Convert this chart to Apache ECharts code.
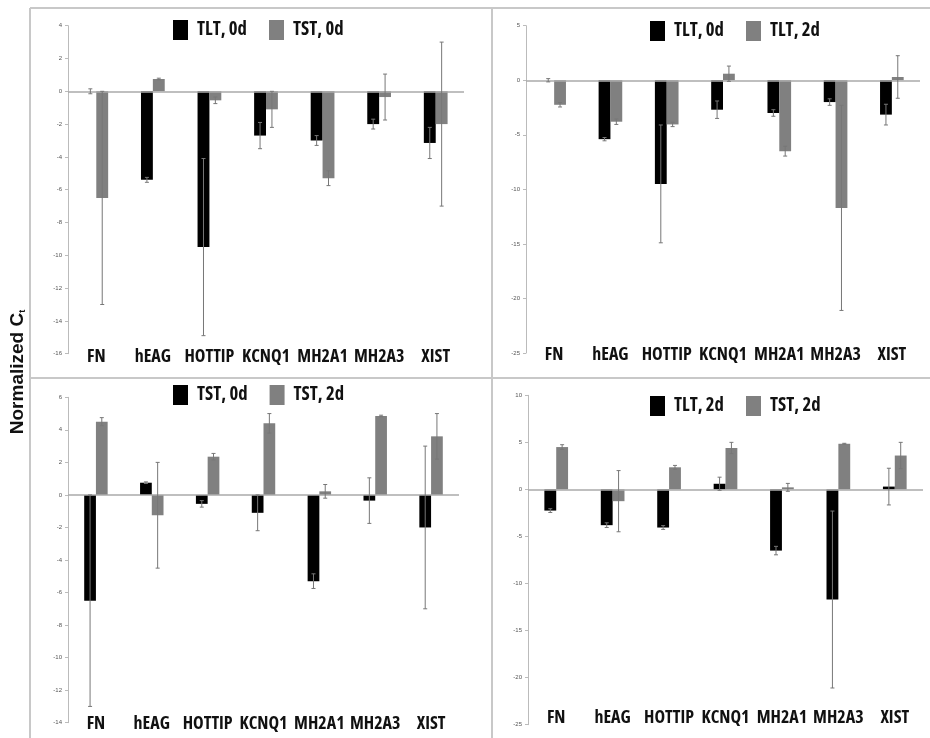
<!DOCTYPE html>
<html>
<head>
<meta charset="utf-8">
<script src="https://cdn.jsdelivr.net/npm/echarts@6/dist/echarts.min.js"></script>
<style>html,body{margin:0;padding:0;background:#fff}#c{width:930px;height:738px}</style>
</head>
<body>
<div id="c"></div>
<script>
// ---- data ----
const categories = ['FN', 'hEAG', 'HOTTIP', 'KCNQ1', 'MH2A1', 'MH2A3', 'XIST'];
const tlt0 = [0, -5.4, -9.5, -2.7, -3.0, -2.0, -3.15];
const tlt0Err = [0.15, 0.15, 5.4, 0.8, 0.3, 0.3, 0.95];
const tst0 = [-6.5, 0.75, -0.55, -1.1, -5.3, -0.35, -2.0];
const tst0Err = [6.5, 0.05, 0.2, 1.1, 0.45, 1.4, 5.0];
const tlt2 = [-2.25, -3.8, -4.05, 0.6, -6.5, -11.7, 0.3];
const tlt2Err = [0.2, 0.25, 0.2, 0.7, 0.45, 9.4, 1.95];
const tst2 = [4.5, -1.25, 2.35, 4.4, 0.22, 4.85, 3.6];
const tst2Err = [0.25, 3.25, 0.2, 0.6, 0.42, 0.05, 1.4];

const yTicksTL = { min: -16, max: 4, interval: 2 };
const yTicksTR = { min: -25, max: 5, interval: 5 };
const yTicksBL = { min: -14, max: 6, interval: 2 };
const yTicksBR = { min: -25, max: 10, interval: 5 };

const nameTLT0 = 'TLT, 0d', nameTST0 = 'TST, 0d', nameTLT2 = 'TLT, 2d', nameTST2 = 'TST, 2d';
const yTitle = 'Normalized C';

// ---- pick the narrowest available bold face (labels in the reference are condensed) ----
function pickNarrow() {
  const ctx = document.createElement('canvas').getContext('2d');
  const probe = 'HOTTIP';
  function w(font) { ctx.font = font; return ctx.measureText(probe).width; }
  const base1 = w('bold 100px monospace'), base2 = w('bold 100px serif');
  const cands = [
    ['Liberation Sans Narrow', ''], ['Arial Narrow', ''], ['DejaVu Sans Condensed', ''],
    ['Roboto Condensed', ''], ['Open Sans Condensed', ''], ['Noto Sans Condensed', ''],
    ['Open Sans', 'condensed'], ['Noto Sans', 'condensed'], ['Roboto', 'condensed'],
    ['Inter', 'condensed'], ['DejaVu Sans', 'condensed'], ['Liberation Sans', '']
  ];
  let best = { fam: 'Liberation Sans', stretch: '', width: w('bold 100px "Liberation Sans"') };
  cands.forEach(([fam, st]) => {
    const a = w('bold ' + (st ? st + ' ' : '') + '100px "' + fam + '", monospace');
    const b = w('bold ' + (st ? st + ' ' : '') + '100px "' + fam + '", serif');
    if (Math.abs(a - base1) < 0.5 && Math.abs(b - base2) < 0.5) return; // not installed
    if (a < best.width - 0.5) best = { fam: fam, stretch: st, width: a };
  });
  function measure(text, size) {
    ctx.font = 'bold ' + (best.stretch ? best.stretch + ' ' : '') + size + 'px "' + best.fam + '", sans-serif';
    return ctx.measureText(text).width;
  }
  best.measure = measure;
  return best;
}
const nf = pickNarrow();
const narrowFamily = '"' + nf.fam + '", sans-serif';
const narrowWeight = 'bold' + (nf.stretch ? ' ' + nf.stretch : '');
const catFontSize = Math.min(22, Math.max(11, 50 / (nf.measure('HOTTIP', 100) / 100)));
const legFontSize = Math.min(22, Math.max(11, 50 / (nf.measure('TLT, 0d', 100) / 100)));

// ---- layout / style ----
const BLACK = '#000000', GRAY = '#808080';

const panels = [
  { grid: { left: 68, top: 25.7, width: 396, height: 328 }, ticks: yTicksTL, labelMargin: 3,
    s: [[nameTLT0, tlt0, tlt0Err], [nameTST0, tst0, tst0Err]], legend: { left: 173, top: 20 } },
  { grid: { left: 526, top: 25.7, width: 394, height: 327.3 }, ticks: yTicksTR, labelMargin: 2,
    s: [[nameTLT0, tlt0, tlt0Err], [nameTLT2, tlt2, tlt2Err]], legend: { left: 650, top: 21 } },
  { grid: { left: 68, top: 397.3, width: 391, height: 325.4 }, ticks: yTicksBL, labelMargin: 1,
    s: [[nameTST0, tst0, tst0Err], [nameTST2, tst2, tst2Err]], legend: { left: 173, top: 385 } },
  { grid: { left: 528, top: 395.3, width: 395, height: 329.4 }, ticks: yTicksBR, labelMargin: -7,
    s: [[nameTLT2, tlt2, tlt2Err], [nameTST2, tst2, tst2Err]], legend: { left: 650, top: 396 } }
];

function errRender(params, api) {
  const i = api.value(0), v = api.value(1), e = api.value(2), side = api.value(3);
  const band = api.size([1, 0])[0];
  const x = api.coord([i, v])[0] + (side ? 1 : -1) * band * 0.105;
  const yh = api.coord([i, v + e])[1], yl = api.coord([i, v - e])[1];
  const c = 2;
  const st = { stroke: '#777', lineWidth: 1 };
  return { type: 'group', children: [
    { type: 'line', shape: { x1: x, y1: yh, x2: x, y2: yl }, style: st },
    { type: 'line', shape: { x1: x - c, y1: yh, x2: x + c, y2: yh }, style: st },
    { type: 'line', shape: { x1: x - c, y1: yl, x2: x + c, y2: yl }, style: st }
  ]};
}

const grids = [], xAxes = [], yAxes = [], legends = [], series = [];
panels.forEach((p, gi) => {
  grids.push(Object.assign({ containLabel: false }, p.grid));
  xAxes.push({
    type: 'category', gridIndex: gi, data: categories,
    axisLine: { show: false, onZero: false }, axisTick: { show: false }, splitLine: { show: false },
    axisLabel: { interval: 0, fontFamily: narrowFamily, fontWeight: narrowWeight, fontSize: catFontSize, color: '#111',
      verticalAlign: 'middle', margin: p.labelMargin, hideOverlap: false }
  });
  yAxes.push({
    type: 'value', gridIndex: gi, min: p.ticks.min, max: p.ticks.max, interval: p.ticks.interval,
    axisLine: { show: true, onZero: false, lineStyle: { color: '#bbb', width: 1 } },
    axisTick: { show: true, length: 3, lineStyle: { color: '#bbb' } },
    axisLabel: { fontSize: 6, color: '#555', margin: 6, fontFamily: 'Liberation Sans, Arial, sans-serif' },
    splitLine: { show: false }
  });
  legends.push({
    left: p.legend.left, top: p.legend.top, padding: 0, orient: 'horizontal', icon: 'rect',
    itemWidth: 15, itemHeight: 20, itemGap: 22, selectedMode: false,
    textStyle: { fontFamily: narrowFamily, fontWeight: narrowWeight, fontSize: legFontSize, color: '#111', padding: [0, 0, 0, 4] },
    data: [
      { name: p.s[0][0], itemStyle: { color: BLACK } },
      { name: p.s[1][0], itemStyle: { color: GRAY } }
    ]
  });
  p.s.forEach((s, si) => {
    const bar = {
      type: 'bar', name: s[0], xAxisIndex: gi, yAxisIndex: gi, data: s[1],
      itemStyle: { color: si === 0 ? BLACK : GRAY },
      barGap: '0%', barCategoryGap: '58%', z: 2
    };
    if (si === 0) {
      bar.markLine = { silent: true, symbol: ['none', 'none'], label: { show: false },
        lineStyle: { color: '#aaa', type: 'solid', width: 1.5 }, data: [{ yAxis: 0 }] };
    }
    series.push(bar);
    series.push({
      type: 'custom', name: 'err' + gi + '_' + si, xAxisIndex: gi, yAxisIndex: gi,
      renderItem: errRender, encode: { x: 0, y: 1 }, z: 5,
      data: s[1].map((v, i) => [i, v, s[2][i], si])
    });
  });
});

const frame = { stroke: '#c8c8c8', lineWidth: 2 };
const option = {
  animation: false,
  backgroundColor: '#fff',
  grid: grids, xAxis: xAxes, yAxis: yAxes, legend: legends, series: series,
  graphic: [
    { type: 'line', shape: { x1: 30, y1: 8, x2: 930, y2: 8 }, style: frame, silent: true },
    { type: 'line', shape: { x1: 30, y1: 8, x2: 30, y2: 738 }, style: frame, silent: true },
    { type: 'line', shape: { x1: 492, y1: 8, x2: 492, y2: 738 }, style: frame, silent: true },
    { type: 'line', shape: { x1: 30, y1: 378, x2: 930, y2: 378 }, style: frame, silent: true },
    { type: 'text', x: 18, y: 372, rotation: Math.PI / 2, silent: true,
      style: { text: '{a|' + yTitle + '}{b|t}', align: 'center', verticalAlign: 'middle',
        rich: {
          a: { fontFamily: 'Liberation Sans, Arial, sans-serif', fontWeight: 'bold', fontSize: 19, fill: '#111' },
          b: { fontFamily: 'Liberation Sans, Arial, sans-serif', fontWeight: 'bold', fontSize: 9, fill: '#111', padding: [10, 0, 0, 0] }
        } } }
  ]
};

const chart = echarts.init(document.getElementById('c'), null, { renderer: 'canvas' });
chart.setOption(option);
</script>
</body>
</html>
